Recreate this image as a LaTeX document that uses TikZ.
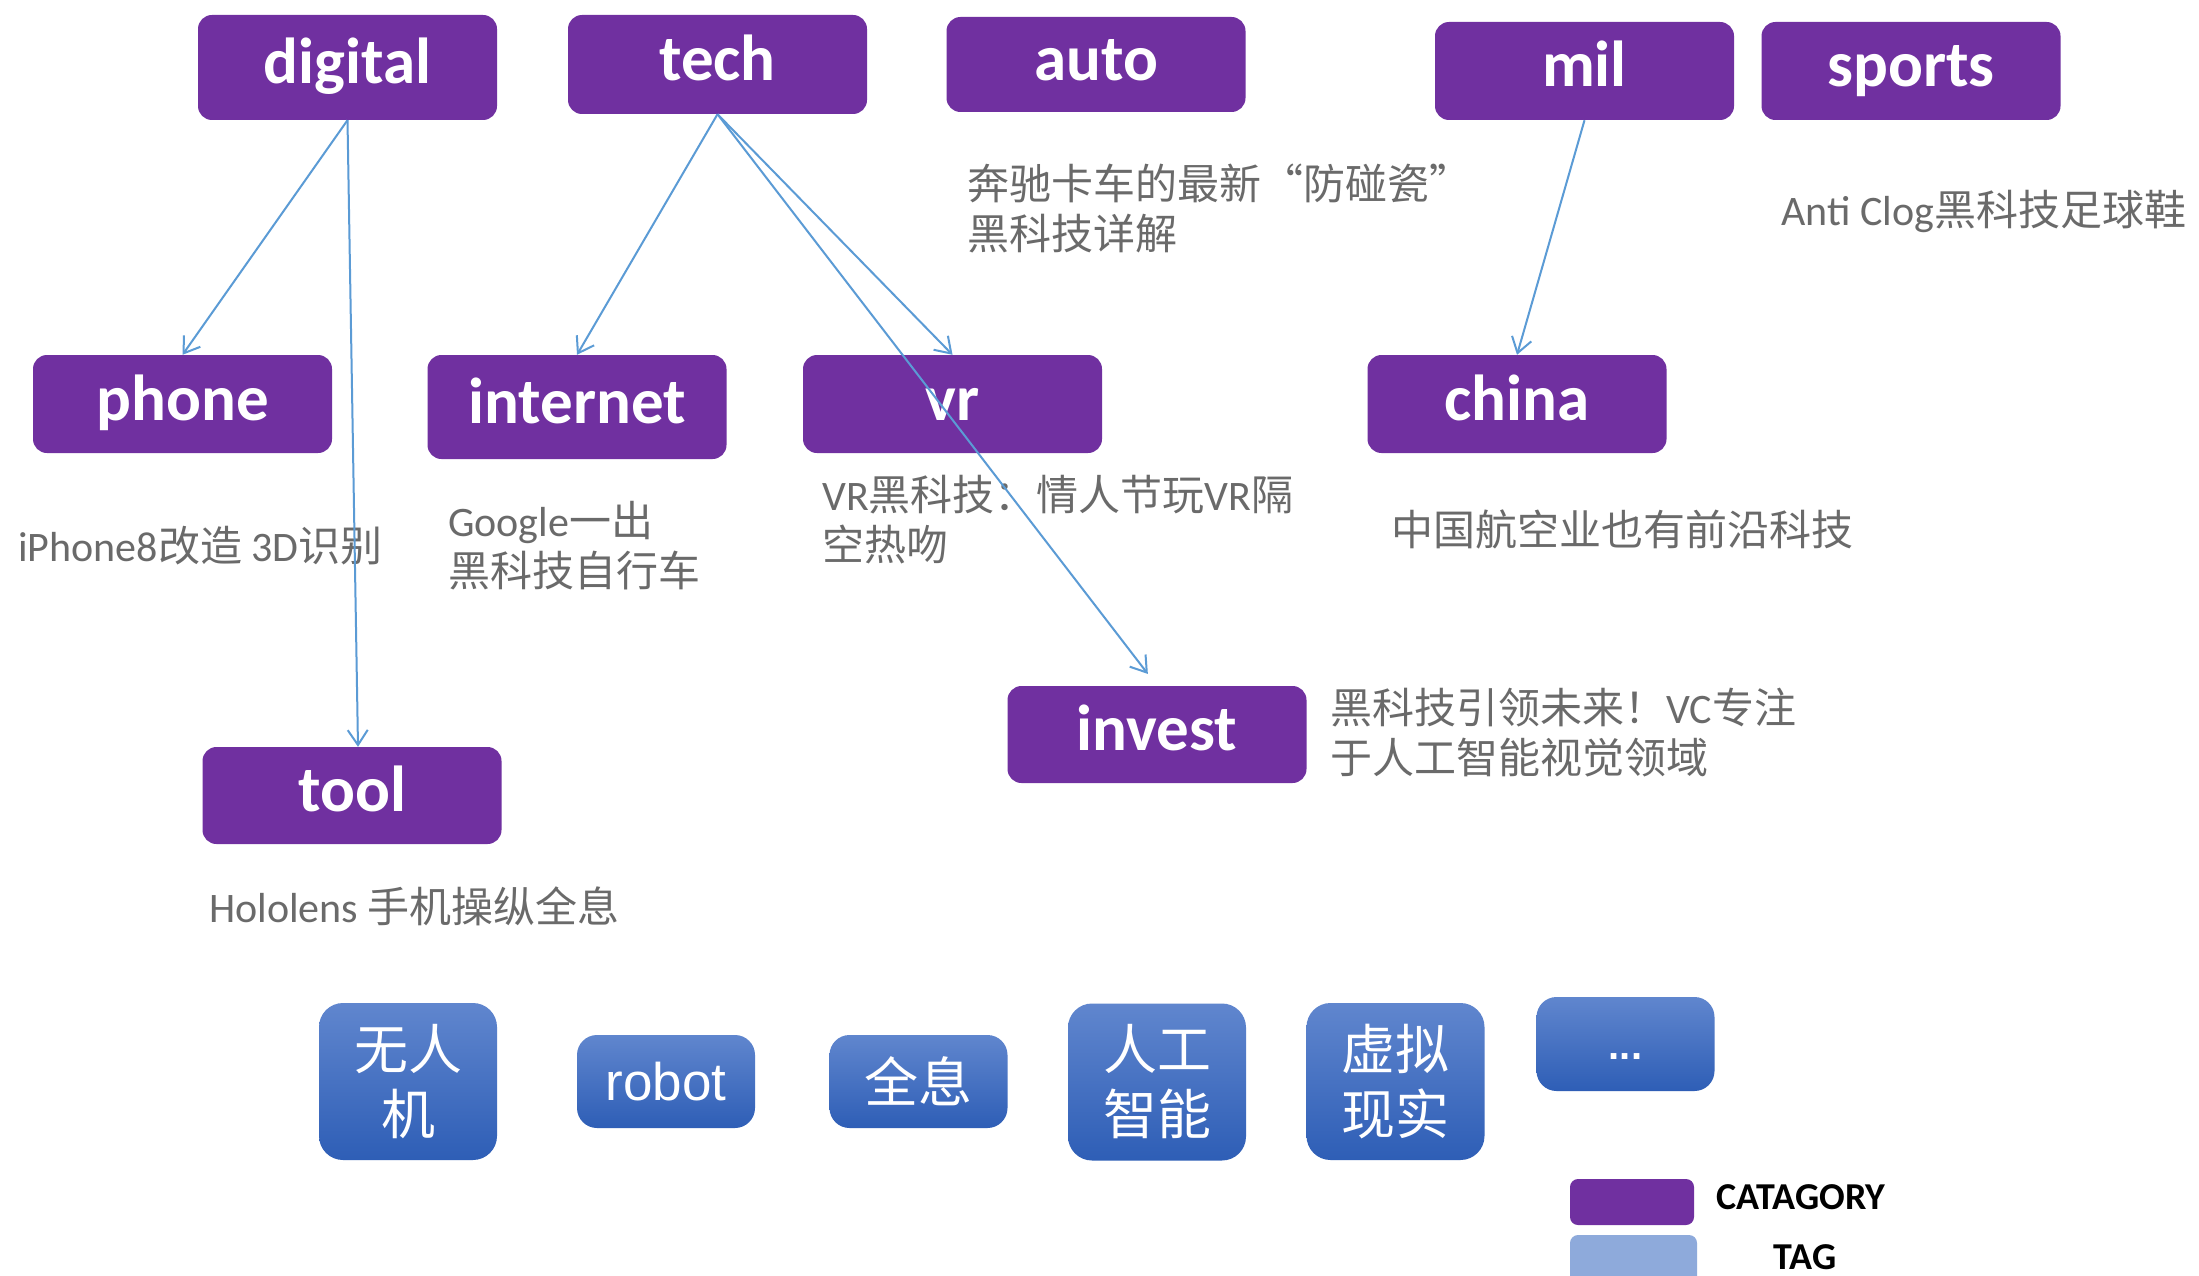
\documentclass[tikz,border=0pt]{standalone}
\usepackage{fontspec}
\setmainfont{Carlito}
\newfontfamily\cjk{Noto Sans CJK SC}
\newfontfamily\arialf{Liberation Sans}
\usetikzlibrary{arrows.meta}
\definecolor{catpurple}{HTML}{7030A0}
\definecolor{arrowblue}{HTML}{5B9BD5}
\definecolor{graytext}{HTML}{6A6A6A}
\definecolor{tagtop}{HTML}{6086CE}
\definecolor{tagbot}{HTML}{2E5EB6}
\definecolor{legblue}{HTML}{8EAADB}
\begin{document}
\begin{tikzpicture}[x=1pt,y=-1pt,
  cat/.style={fill=catpurple, rounded corners=14pt, minimum width=299pt, minimum height=98pt,
    inner sep=0pt, text=white, font=\fontsize{65}{70}\selectfont\bfseries,
    text height=46pt, text depth=14pt},
  tagbox/.style={top color=tagtop, bottom color=tagbot, rounded corners=24pt,
    minimum width=178pt, inner sep=0pt, text=white, align=center},
  cjktag/.style={font=\cjk\fontsize{54}{65}\selectfont},
  note/.style={anchor=west, inner sep=0pt, text=graytext, align=left,
    font=\fontsize{42}{50}\selectfont},
  link/.style={draw=arrowblue, line width=2pt, -{Straight Barb[length=15pt,width=20pt]}}
]
\useasboundingbox[fill=white] (0,0) rectangle (2199,1276);

% category nodes
\node[cat, minimum height=105pt] (digital) at (347.5,67.5) {digital};
\node[cat, minimum height=99pt] (tech) at (717.5,64.5) {tech};
\node[cat, minimum height=95pt] (auto) at (1096,64.5) {auto};
\node[cat] (mil) at (1584.5,71) {mil};
\node[cat] (sports) at (1911,71) {sports};
\node[cat] (phone) at (182.5,404) {phone};
\node[cat, minimum height=104pt] (internet) at (577,407) {internet};
\node[cat] (vr) at (952.5,404) {vr};
\node[cat] (china) at (1517,404) {china};
\node[cat, minimum height=97pt] (invest) at (1157,734.5) {invest};
\node[cat, minimum height=97pt] (tool) at (352,795.5) {tool};

% notes
\node[note] (nauto) at (967,208) {{\cjk 奔驰卡车的最新“防碰瓷”}\\{\cjk 黑科技详解}};
\node[note] (nsports) at (1781,211) {Anti Clog{\cjk 黑科技足球鞋}};
\node[note] (nphone) at (18,546) {iPhone8{\cjk 改造} 3D{\cjk 识别}};
\node[note] (ninternet) at (448,546) {Google{\cjk 一出}\\{\cjk 黑科技自行车}};
\node[note] (nvr) at (822,520) {VR{\cjk 黑科技：情人节玩}VR{\cjk 隔}\\{\cjk 空热吻}};
\node[note] (nchina) at (1391,529) {{\cjk 中国航空业也有前沿科技}};
\node[note] (ninvest) at (1330,733) {{\cjk 黑科技引领未来！}VC{\cjk 专注}\\{\cjk 于人工智能视觉领域}};
\node[note] (ntool) at (209,906) {Hololens {\cjk 手机操纵全息}};

% tags
\node[tagbox, cjktag, minimum height=157pt] (t1) at (408,1081.5) {无人\\机};
\node[tagbox, minimum height=93pt, rounded corners=20pt, font=\arialf\fontsize{53}{60}\selectfont] (t2) at (666,1081.5) {robot};
\node[tagbox, cjktag, minimum height=93pt, rounded corners=20pt] (t3) at (918.5,1081.5) {全息};
\node[tagbox, cjktag, minimum height=157pt] (t4) at (1157,1082) {人工\\智能};
\node[tagbox, cjktag, minimum height=157pt] (t5) at (1395.5,1081.5) {虚拟\\现实};
\node[tagbox, minimum height=94pt, rounded corners=20pt, font=\arialf\bfseries\fontsize{40}{44}\selectfont,
  text height=40pt, text depth=10pt] (t6) at (1625.5,1044) {...};

% legend
\node[fill=catpurple, rounded corners=8pt, minimum width=124pt, minimum height=46pt, inner sep=0pt] (legcat) at (1632,1202) {};
\node[fill=legblue, rounded corners=8pt, minimum width=127pt, minimum height=56pt, inner sep=0pt] (legtag) at (1633.5,1263) {};
\node[inner sep=0pt, font=\bfseries\fontsize{38}{40}\selectfont] (lcat) at (1801,1197) {CATAGORY};
\node[inner sep=0pt, font=\bfseries\fontsize{38}{40}\selectfont] (ltag) at (1805,1257) {TAG};

% connectors
\draw[link] (digital.south) -- (phone.north);
\draw[link] (digital.south) -- ([xshift=6pt]tool.north);
\draw[link] (tech.south) -- (internet.north);
\draw[link] (tech.south) -- (vr.north);
\draw[link, shorten >=15pt] (tech.south) -- (invest.north);
\draw[link] (mil.south) -- (china.north);
\end{tikzpicture}
\end{document}
